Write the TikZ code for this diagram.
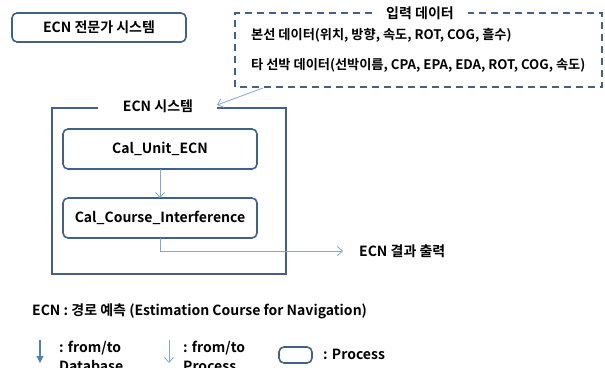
\documentclass[tikz,border=0pt]{standalone}
\usepackage{fontspec}
\setmainfont{Noto Sans CJK KR}[BoldFont=* Bold]
\usetikzlibrary{arrows.meta}
\definecolor{boxline}{HTML}{41618A}
\definecolor{flow}{HTML}{7FA6D6}
\definecolor{dbflow}{HTML}{4F81BD}
\tikzset{
  every node/.style={font=\bfseries\fontsize{14}{15}\selectfont, inner sep=0pt},
  datatext/.style={font=\bfseries\fontsize{13.2}{15}\selectfont},
  legendtext/.style={font=\bfseries\fontsize{14}{19}\selectfont, align=left},
  procbox/.style={draw=boxline, line width=1.6pt, rounded corners=5pt},
  framebox/.style={draw=boxline, line width=1.6pt},
  databox/.style={draw=boxline, line width=1.5pt, dash pattern=on 7pt off 5pt},
  flowline/.style={draw=flow, line width=0.8pt, -{Straight Barb[length=5pt,width=9pt]}},
}
\begin{document}
\begin{tikzpicture}[x=1pt,y=-1pt]
\useasboundingbox (0,0) rectangle (605,367);

% expert system title box
\draw[procbox] (12,13) rectangle (186,42);
\node (title) at (99,27.5) {ECN 전문가 시스템};

% input data group (dashed)
\node (inhead) at (420,13) {입력 데이터};
\draw[databox] (372,13) -- (235,13) -- (235,87) -- (602,87) -- (602,13) -- (468,13);
\node[anchor=west, datatext] (own) at (251,35) {본선 데이터(위치, 방향, 속도, ROT, COG, 흘수)};
\node[anchor=west, datatext] (other) at (251,65) {타 선박 데이터(선박이름, CPA, EPA, EDA, ROT, COG, 속도)};
\coordinate (indata) at (263,88);

% ECN system frame
\draw[framebox] (98,108) -- (52,108) -- (52,274) -- (286,274) -- (286,108) -- (217,108);
\node (sys) at (158,106) {ECN 시스템};
\coordinate (sysin) at (217,105);

% processes
\draw[procbox] (63,129) rectangle (257,169);
\node (unit) at (160,149) {Cal\_Unit\_ECN};
\draw[procbox] (63,198) rectangle (257,238);
\node (course) at (160,218) {Cal\_Course\_Interference};

% connectors
\draw[flowline] (indata) -- (sysin);
\draw[flowline] (160,169) -- (160,198);
\coordinate (outtip) at (343,251);
\draw[flowline] (160,238) -- (160,251) -- (outtip);
\node[anchor=west] (out) at (359,251) {ECN 결과 출력};

% legend
\node[anchor=west] (abbr) at (32,311) {ECN : 경로 예측 (Estimation Course for Navigation)};
\coordinate (dbtop) at (40,340);
\coordinate (dbbot) at (40,363);
\draw[dbflow, line width=1.2pt, -{Triangle[length=7pt,width=7pt]}] (dbtop) -- (dbbot);
\node[anchor=north west, legendtext] (dblbl) at (59,341) {: from/to\\Database};
\coordinate (prtop) at (169,340);
\coordinate (prbot) at (169,363);
\draw[flowline] (prtop) -- (prbot);
\node[anchor=north west, legendtext] (prlbl) at (183,341) {: from/to\\Process};
\draw[procbox] (279,347) rectangle (312,363);
\node[anchor=west] (plbl) at (323,354) {: Process};
\end{tikzpicture}
\end{document}
